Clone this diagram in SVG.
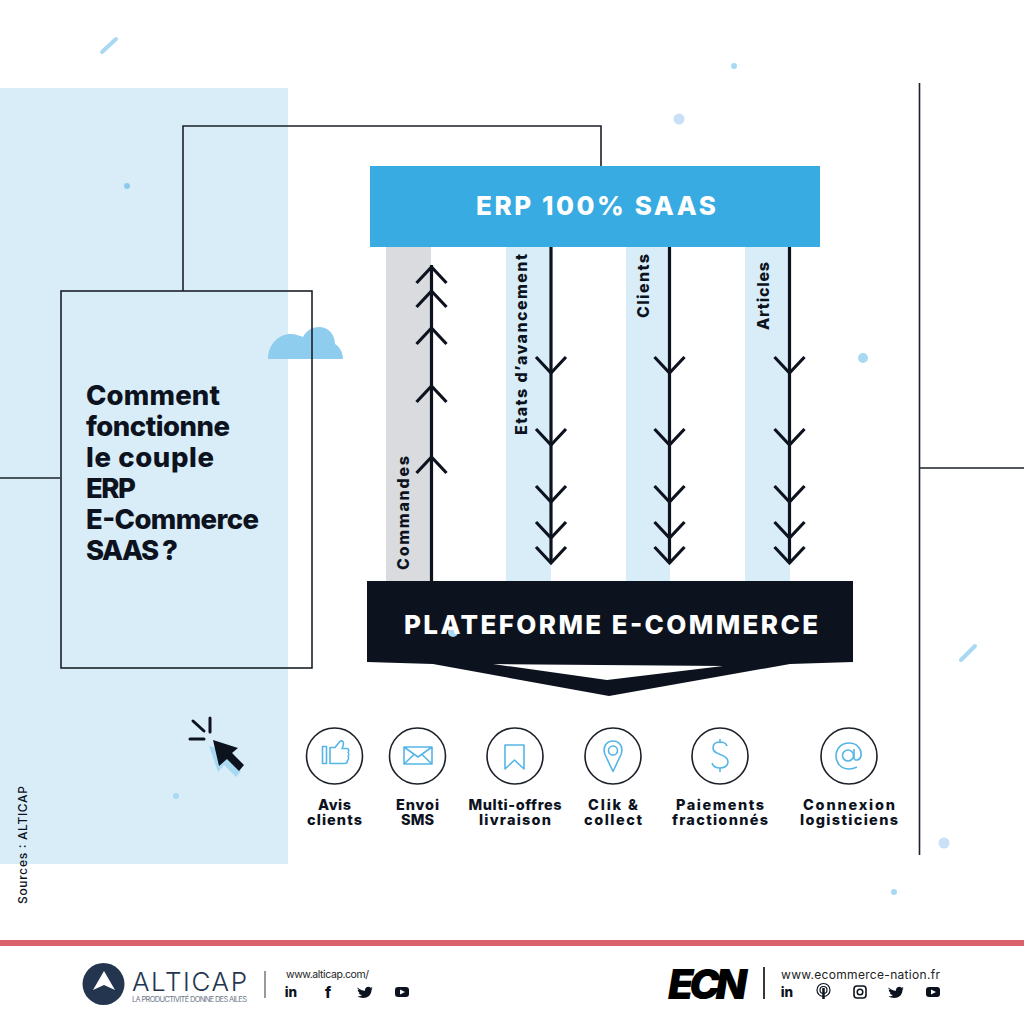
<svg xmlns="http://www.w3.org/2000/svg" width="1024" height="1024" viewBox="0 0 1024 1024">
<defs>
<style>
text{font-family:"Inter","Liberation Sans",sans-serif;font-weight:800;fill:#0d131e}
.line{fill:none;stroke:#1b2029;stroke-width:1.6}
.arrow{fill:none;stroke:#0d131e;stroke-width:3.200}
.ring{fill:#fff;stroke:#1b2029;stroke-width:1.6}
.ico{fill:none;stroke:#55b6e6;stroke-width:1.6;stroke-linejoin:round}
.lab{font-size:14.5px;text-anchor:middle}
.rot{font-size:16px}
.title{font-size:27.5px}
.dec{fill:#a9d8f3}
.blue{fill:#d9edf8}
.foot{font-weight:400;fill:#222}
.soc{fill:#0d131e}
</style>
<path id="up" class="arrow" d="M-15 16L0 0L15 16" />
<path id="down" class="arrow" d="M-15 -16L0 0L15 -16" />
<g id="tw"><path class="soc" d="M-7.5 -4.5C-5.5 -2.5 -3 -1.5 0 -1.3C-.5 -4.500 3.500 -6.500 5.500 -4.300L7.500 -5L6.300 -3.200L7.500 -3.500L6.500 -2C6.500 3 2.500 6 -1.500 6C-4 6 -6 5.300 -7.500 4.300C-5.500 4.500 -4 4 -3 3C-5 3 -6 2 -6.300 .8L-5 .8C-6.500 .2 -7.300 -1 -7.200 -2.300L-5.800 -1.900C-7.300 -3 -7.800 -3.500 -7.500 -4.500Z"/></g>
<g id="yt"><rect class="soc" x="-7" y="-5" width="14" height="10" rx="3"/><path fill="#fff" d="M-2 -2.500L3 0L-2 2.500Z"/></g>
<g id="li"><text x="0" y="5" text-anchor="middle" font-size="13.500">in</text></g>
</defs>

<rect width="1024" height="1024" fill="#fff"/>
<rect x="0" y="88" width="288" height="776" class="blue"/>

<g id="decor">
<path d="M102 52L116 39" stroke="#a9d8f3" stroke-width="4" stroke-linecap="round"/>
<path d="M961 660L975 646" stroke="#a9d8f3" stroke-width="4" stroke-linecap="round"/>
<circle cx="127" cy="186" r="3" fill="#8ccbee"/>
<circle class="dec" cx="734" cy="66" r="3"/>
<circle class="dec" cx="679" cy="119" r="5.500" style="fill:#c9e0f6"/>
<circle class="dec" cx="863" cy="358" r="5"/>
<circle class="dec" cx="176" cy="796" r="3"/>
<circle class="dec" cx="944" cy="843" r="5.500" style="fill:#c9e0f6"/>
<circle class="dec" cx="894" cy="892" r="3"/>
<path d="M268 359C268 344 279 334 291 334C296 334 300 336 303 337C306 331 312 327 319 327C328 327 335 334 335 344C339 346 343 352 343 359Z" fill="#8fcdee"/>
</g>

<g id="bands">
<rect x="386" y="247" width="45" height="334" fill="#d9dbde"/>
<rect x="506" y="247" width="45" height="334" class="blue"/>
<rect x="626" y="247" width="44" height="334" class="blue"/>
<rect x="745" y="247" width="45" height="334" class="blue"/>
</g>

<g id="connectors">
<path class="line" d="M183 291V126H601V166"/>
<path class="line" d="M0 478H60"/>
<path class="line" d="M919.500 83V855"/>
<path class="line" d="M920 468H1024"/>
<path class="arrow" d="M431.500 265V581"/>
<path class="arrow" d="M551 247V563"/>
<path class="arrow" d="M669.500 247V563"/>
<path class="arrow" d="M789.500 247V563"/>
<use href="#up" x="431.500" y="267"/><use href="#up" x="431.500" y="291"/><use href="#up" x="431.500" y="328"/><use href="#up" x="431.500" y="386"/><use href="#up" x="431.500" y="457"/>
<use href="#down" x="551" y="373"/><use href="#down" x="551" y="445"/><use href="#down" x="551" y="502"/><use href="#down" x="551" y="538"/><use href="#down" x="551" y="563"/>
<use href="#down" x="669.500" y="373"/><use href="#down" x="669.500" y="445"/><use href="#down" x="669.500" y="502"/><use href="#down" x="669.500" y="538"/><use href="#down" x="669.500" y="563"/>
<use href="#down" x="789.500" y="373"/><use href="#down" x="789.500" y="445"/><use href="#down" x="789.500" y="502"/><use href="#down" x="789.500" y="538"/><use href="#down" x="789.500" y="563"/>
</g>

<g id="labels-flux">
<text class="rot" transform="translate(409 570) rotate(-90)" textLength="114">Commandes</text>
<text class="rot" transform="translate(527 435) rotate(-90)" textLength="181">Etats d’avancement</text>
<text class="rot" transform="translate(649 318) rotate(-90)" textLength="64">Clients</text>
<text class="rot" transform="translate(769 330) rotate(-90)" textLength="68">Articles</text>
</g>

<g id="node-question">
<rect x="61" y="291" width="251" height="377" class="line"/>
<text class="title" x="86" y="405" textLength="134">Comment</text>
<text class="title" x="86" y="436" textLength="144">fonctionne</text>
<text class="title" x="86" y="467" textLength="128">le couple</text>
<text class="title" x="86" y="498" textLength="50">ERP</text>
<text class="title" x="86" y="529" textLength="173">E-Commerce</text>
<text class="title" x="86" y="560" textLength="92">SAAS ?</text>
</g>

<g id="node-erp">
<rect x="370" y="166" width="450" height="81" fill="#38abe2"/>
<text x="476" y="215" font-size="26" style="fill:#fff" textLength="240">ERP 100% SAAS</text>
</g>

<g id="node-plateforme">
<path fill="#0d131e" fill-rule="evenodd" d="M367 581H853V662L790 664L609 696L433 664L367 662Z M493 664L607 680L723 666Z"/>
<circle cx="453" cy="632" r="5" fill="#a9d8f3"/>
<text x="404" y="634" font-size="26" style="fill:#fff" textLength="414">PLATEFORME E-COMMERCE</text>
</g>

<g id="node-avis">
<circle class="ring" cx="334.500" cy="756" r="28"/>
<path class="ico" d="M322.500 746.500h4v17h-4zM330 747.500h5l4 -5c1 -2 3 -2 4 -1c1 2 0 5 -1 7h5c2 0 2 3 1 4c1 1 1 3 0 4c1 1 .5 3 -.5 4c0 2 -1 3 -3 3h-14.500z"/>
<text class="lab" x="334.500" y="810" textLength="33">Avis</text><text class="lab" x="334.500" y="824.500" textLength="55">clients</text>
</g>
<g id="node-sms">
<circle class="ring" cx="417.500" cy="756" r="28"/>
<path class="ico" d="M404 747h28v17h-28zM404 747l14 10l14 -10M404 764l10 -9.500M432 764l-10 -9.500"/>
<text class="lab" x="417.500" y="810" textLength="43">Envoi</text><text class="lab" x="417.500" y="824.500" textLength="33">SMS</text>
</g>
<g id="node-multi">
<circle class="ring" cx="515" cy="756" r="28"/>
<path class="ico" d="M505 745h19v24l-9.500 -9l-9.500 9z"/>
<text class="lab" x="515" y="810" textLength="93">Multi-offres</text><text class="lab" x="515" y="824.500" textLength="72">livraison</text>
</g>
<g id="node-clik">
<circle class="ring" cx="613" cy="756" r="28"/>
<path class="ico" d="M613 771.500l-8 -17c-3 -8 2 -13.500 8 -13.500s11 5.500 8 13.500z"/><circle class="ico" cx="613" cy="750.500" r="4.500"/>
<text class="lab" x="613" y="810" textLength="50">Clik &amp;</text><text class="lab" x="613" y="824.500" textLength="58">collect</text>
</g>
<g id="node-paiements">
<circle class="ring" cx="720" cy="756" r="28"/>
<path class="ico" d="M727 746c-1 -3 -4 -4 -7 -4c-4 0 -7 2 -7 6c0 8 15 5 15 14c0 4 -4 6 -8 6c-4 0 -7 -2 -8 -5M720 739v4M720 768v4" stroke-width="2"/>
<text class="lab" x="720" y="810" textLength="88">Paiements</text><text class="lab" x="720" y="824.500" textLength="96">fractionnés</text>
</g>
<g id="node-connexion">
<circle class="ring" cx="849" cy="756" r="28"/>
<circle class="ico" cx="848" cy="755.500" r="5.500"/>
<path class="ico" d="M854 749v9c0 3 6 3 7 -2c1 -8 -5 -13 -12 -13c-8 0 -13 6 -13 13c0 8 6 13 13 13c3 0 6 -1 8 -2"/>
<text class="lab" x="849" y="810" textLength="92">Connexion</text><text class="lab" x="849" y="824.500" textLength="98">logisticiens</text>
</g>

<g id="cursor">
<path d="M209 746L235 754L229 759L241 771L236 777L224 765L218 772Z" fill="#a9d8f3"/>
<path d="M213 740L238 748L232 753L244 765L239 771L227 759L219 766Z" fill="#0d131e"/>
<path d="M190 739H204M210 718V732M193 721L204 731" stroke="#0d131e" stroke-width="3" stroke-linecap="round" fill="none"/>
</g>

<text transform="translate(27 904) rotate(-90)" font-size="12" style="font-weight:500" textLength="118">Sources : ALTICAP</text>

<rect x="0" y="940" width="1024" height="6" fill="#d9626b"/>

<g id="footer-alticap">
<circle cx="103.500" cy="984" r="21" fill="#24364f"/>
<path d="M104 971L115 990L104 985L93 990Z" fill="#fff"/>
<text x="132" y="991" font-size="26" style="font-weight:300;fill:#24364f" textLength="115">ALTICAP</text>
<text x="132" y="1002" font-size="7.500" style="font-weight:400;fill:#6b7888" textLength="115">LA PRODUCTIVITÉ DONNE DES AILES</text>
<path d="M265 971V998" stroke="#555" stroke-width="1.200"/>
<text class="foot" x="286" y="978" font-size="10.500" textLength="83">www.alticap.com/</text>
<use href="#li" x="291" y="992"/>
<text x="328" y="998" font-size="15" text-anchor="middle">f</text>
<use href="#tw" x="365" y="992"/>
<use href="#yt" x="402" y="992"/>
</g>

<g id="footer-ecn">
<text x="668" y="999" font-size="41" style="font-weight:900;font-style:italic;fill:#000" textLength="79">ECN</text>
<path d="M764 967V999" stroke="#222" stroke-width="1.800"/>
<text class="foot" x="781" y="979" font-size="12" textLength="159">www.ecommerce-nation.fr</text>
<use href="#li" x="787" y="992"/>
<g fill="none" stroke="#0d131e"><circle cx="823.500" cy="990" r="6.500" stroke-width="1.200"/><circle cx="823.500" cy="990" r="3.500" stroke-width="1.200"/></g>
<path d="M823.500 988v11" stroke="#0d131e" stroke-width="2.500"/>
<rect x="854" y="986" width="12" height="12" rx="3" fill="none" stroke="#0d131e" stroke-width="1.600"/><circle cx="860" cy="992" r="2.800" fill="none" stroke="#0d131e" stroke-width="1.500"/>
<use href="#tw" x="896" y="992"/>
<use href="#yt" x="933" y="992"/>
</g>
</svg>
